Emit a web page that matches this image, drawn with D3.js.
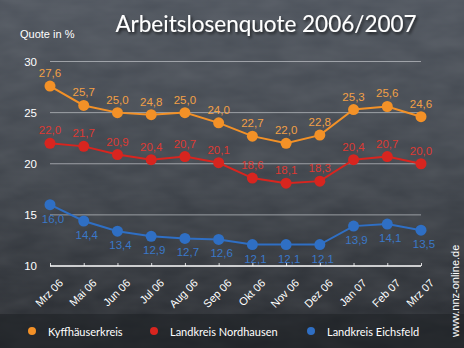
<!DOCTYPE html>
<html>
<head>
<meta charset="utf-8">
<script src="https://cdn.jsdelivr.net/npm/d3@7/dist/d3.min.js"></script>
<style>
  html, body { margin: 0; padding: 0; background: #2b2f35; }
  svg { display: block; }
</style>
</head>
<body>
<svg id="chart" width="464" height="348"></svg>
<script>
// Monthly unemployment rates (%) for three districts in northern Thuringia
const months = ["Mrz 06", "Mai 06", "Jun 06", "Jul 06", "Aug 06", "Sep 06",
                "Okt 06", "Nov 06", "Dez 06", "Jan 07", "Feb 07", "Mrz 07"];
const kyffhaeuser = [27.6, 25.7, 25.0, 24.8, 25.0, 24.0, 22.7, 22.0, 22.8, 25.3, 25.6, 24.6];
const nordhausen  = [22.0, 21.7, 20.9, 20.4, 20.7, 20.1, 18.6, 18.1, 18.3, 20.4, 20.7, 20.0];
const eichsfeld   = [16.0, 14.4, 13.4, 12.9, 12.7, 12.6, 12.1, 12.1, 12.1, 13.9, 14.1, 13.5];
const yTicks = [10, 15, 20, 25, 30];
const seriesNames = ["Kyffhäuserkreis", "Landkreis Nordhausen", "Landkreis Eichsfeld"];

const series = [
  { name: seriesNames[0], values: kyffhaeuser, color: "#f39127", label: "#f2a046", below: false },
  { name: seriesNames[1], values: nordhausen,  color: "#d8251f", label: "#dd3a33", below: false },
  { name: seriesNames[2], values: eichsfeld,   color: "#2f6fc4", label: "#3a78c8", below: true }
];

const W = 464, H = 348;
const svg = d3.select("#chart");
const defs = svg.append("defs");

// chalkboard background
const bg = defs.append("linearGradient").attr("id", "bg")
  .attr("x1", 0).attr("y1", 0).attr("x2", 0).attr("y2", 1);
bg.append("stop").attr("offset", "0%").attr("stop-color", "#4c525b");
bg.append("stop").attr("offset", "55%").attr("stop-color", "#3c4148");
bg.append("stop").attr("offset", "100%").attr("stop-color", "#23262b");

const grain = defs.append("filter").attr("id", "grain")
  .attr("x", 0).attr("y", 0).attr("width", "100%").attr("height", "100%");
grain.append("feTurbulence").attr("type", "fractalNoise")
  .attr("baseFrequency", "0.025 0.06").attr("numOctaves", 3).attr("seed", 7);
grain.append("feColorMatrix").attr("type", "matrix")
  .attr("values", "0 0 0 0 1  0 0 0 0 1  0 0 0 0 1  0 0 0 0.10 0");

const shadow = defs.append("filter").attr("id", "shadow")
  .attr("x", "-10%").attr("y", "-30%").attr("width", "130%").attr("height", "170%");
shadow.append("feDropShadow").attr("dx", 1.5).attr("dy", 2).attr("stdDeviation", 1.5)
  .attr("flood-color", "#000").attr("flood-opacity", 0.7);

svg.append("rect").attr("width", W).attr("height", H).attr("fill", "url(#bg)");
svg.append("rect").attr("width", W).attr("height", H).attr("filter", "url(#grain)");

// scales
const x = d3.scalePoint().domain(months).range([50, 421]);
const y = d3.scaleLinear().domain([10, 30]).range([266, 61.5]);

// title and unit
svg.append("text")
  .attr("x", 266).attr("y", 32)
  .attr("text-anchor", "middle")
  .attr("font-family", "Lato, 'Open Sans', sans-serif")
  .attr("font-size", 22.5)
  .attr("fill", "#ffffff")
  .attr("filter", "url(#shadow)")
  .text("Arbeitslosenquote 2006/2007");

svg.append("text")
  .attr("x", 20).attr("y", 38)
  .attr("font-family", "'Liberation Sans', Arial, sans-serif")
  .attr("font-size", 11)
  .attr("fill", "#ffffff")
  .text("Quote in %");

// horizontal gridlines
svg.append("g")
  .selectAll("line")
  .data(yTicks.filter(t => t > 10))
  .join("line")
  .attr("x1", 50).attr("x2", 421)
  .attr("y1", d => y(d)).attr("y2", d => y(d))
  .attr("stroke", "#b9bcc2").attr("stroke-opacity", 0.75).attr("stroke-width", 1);

// y axis labels
svg.append("g")
  .selectAll("text")
  .data(yTicks)
  .join("text")
  .attr("x", 37).attr("y", d => y(d) + 4)
  .attr("text-anchor", "end")
  .attr("font-family", "'Liberation Sans', Arial, sans-serif")
  .attr("font-size", 11.5)
  .attr("fill", "#ffffff")
  .text(d => d);

// x axis
const xAxis = d3.axisTop(x).tickSize(3).tickFormat("");
const gx = svg.append("g").attr("transform", `translate(0,${y(10)})`).call(xAxis);
gx.select(".domain").attr("stroke", "#ffffff").attr("stroke-width", 1.5)
  .attr("d", `M${x.range()[0]},0H${x.range()[1]}`);
gx.selectAll(".tick line").attr("stroke", "#ffffff").attr("stroke-opacity", 0.8);

svg.append("g")
  .selectAll("text")
  .data(months)
  .join("text")
  .attr("transform", d => `translate(${x(d) + 11},${y(10) + 15}) rotate(-45)`)
  .attr("text-anchor", "end")
  .attr("dy", "0.35em")
  .attr("font-family", "'Liberation Sans', Arial, sans-serif")
  .attr("font-size", 11)
  .attr("fill", "#ffffff")
  .text(d => d);

// series lines, points and value labels
const line = d3.line().x((d, i) => x(months[i])).y(d => y(d));
const fmt = v => d3.format(".1f")(v).replace(".", ",");

series.forEach(s => {
  const g = svg.append("g");
  g.append("path")
    .attr("d", line(s.values))
    .attr("fill", "none")
    .attr("stroke", s.color)
    .attr("stroke-width", 2);
  g.selectAll("circle")
    .data(s.values)
    .join("circle")
    .attr("cx", (d, i) => x(months[i]))
    .attr("cy", d => y(d))
    .attr("r", 5.5)
    .attr("fill", s.color);
  g.selectAll("text")
    .data(s.values)
    .join("text")
    .attr("x", (d, i) => x(months[i]) + (s.below ? 3 : 0))
    .attr("y", d => y(d) + (s.below ? 18 : -9))
    .attr("text-anchor", "middle")
    .attr("font-family", "'Liberation Sans', Arial, sans-serif")
    .attr("font-size", 11.5)
    .attr("fill", s.label)
    .text(d => fmt(d));
});

// legend strip
svg.append("rect").attr("x", 0).attr("y", 314).attr("width", W).attr("height", 34)
  .attr("fill", "#1e2125").attr("opacity", 0.55);

const legendX = [32, 154, 311];
const lg = svg.append("g")
  .selectAll("g")
  .data(series)
  .join("g")
  .attr("transform", (d, i) => `translate(${legendX[i]},331)`);
lg.append("circle").attr("r", 4).attr("fill", d => d.color);
lg.append("text")
  .attr("x", 16).attr("y", 4.5)
  .attr("font-family", "Lato, 'Open Sans', sans-serif")
  .attr("font-size", 11)
  .attr("fill", "#ffffff")
  .text(d => d.name);

// source note
svg.append("text")
  .attr("transform", "translate(459,337) rotate(-90)")
  .attr("font-family", "'Liberation Sans', Arial, sans-serif")
  .attr("font-size", 11)
  .attr("fill", "#ffffff")
  .text("www.nnz-online.de");
</script>
</body>
</html>
